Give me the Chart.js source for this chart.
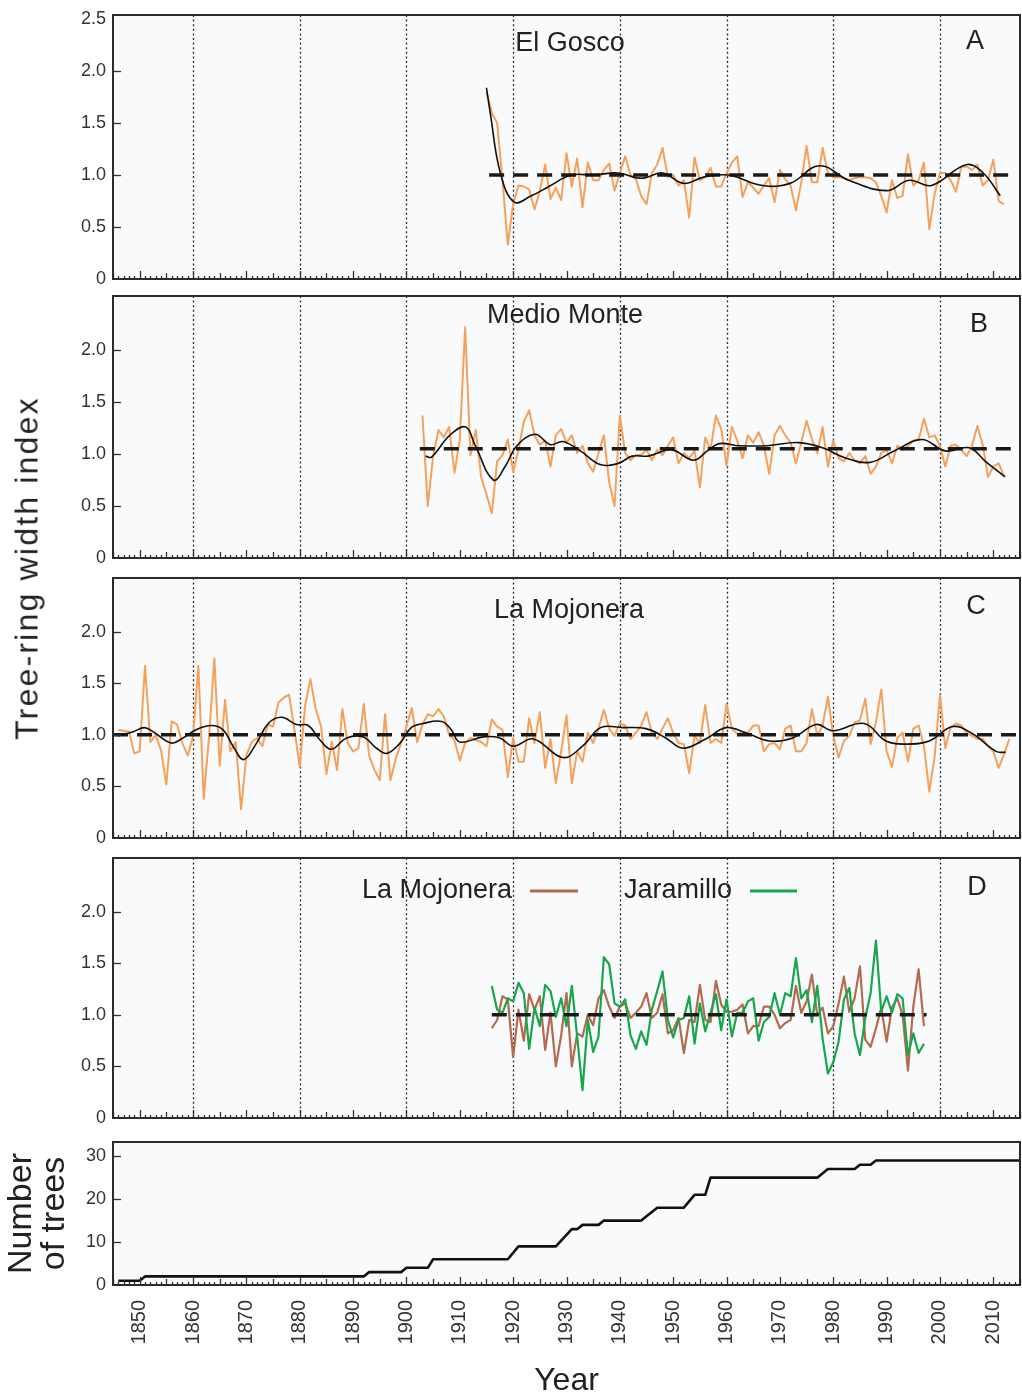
<!DOCTYPE html>
<html>
<head>
<meta charset="utf-8">
<script src="https://cdn.jsdelivr.net/npm/chart.js@4.4.1/dist/chart.umd.min.js"></script>
<style>
  html, body { margin: 0; padding: 0; background: #fff; }
  body { width: 1022px; height: 1397px; position: relative; overflow: hidden; font-family: "Liberation Sans", Arial, sans-serif; }
  canvas { position: absolute; left: 0; }
  #ytitle { position: absolute; left: 27px; top: 568px; transform: translate(-50%, -50%) rotate(-90deg);
            font-size: 32px; letter-spacing: 2.2px; color: #222; white-space: nowrap; }
</style>
</head>
<body>
<canvas id="cA" width="1022" height="288" style="top:3px"></canvas>
<canvas id="cB" width="1022" height="286" style="top:284px"></canvas>
<canvas id="cC" width="1022" height="284" style="top:566px"></canvas>
<canvas id="cD" width="1022" height="284" style="top:846px"></canvas>
<canvas id="cE" width="1022" height="267" style="top:1130px"></canvas>
<div id="ytitle">Tree-ring width index</div>
<script>
// eje de años
const X_MIN = 1845, X_MAX = 2015;
const gridYears = [1860, 1880, 1900, 1920, 1940, 1960, 1980, 2000];
const yearTicks = [1850, 1860, 1870, 1880, 1890, 1900, 1910, 1920, 1930, 1940, 1950, 1960, 1970, 1980, 1990, 2000, 2010];

// A - El Gosco (índice anual desde 1915)
const goscoStart = 1915;
const goscoRing = [
  1.80, 1.60, 1.50, 0.95, 0.33, 0.72, 0.90, 0.89, 0.86, 0.67,
  0.85, 1.10, 0.77, 0.88, 0.76, 1.21, 0.89, 1.16, 0.69, 1.12,
  0.95, 0.95, 1.05, 1.11, 0.85, 1.02, 1.18, 1.00, 0.96, 0.80,
  0.72, 1.02, 1.10, 1.26, 0.98, 1.00, 0.90, 0.95, 0.59, 1.17,
  0.95, 0.98, 1.07, 0.89, 0.89, 1.02, 1.12, 1.18, 0.79, 0.93,
  0.88, 0.82, 0.90, 0.97, 0.74, 1.05, 0.96, 0.90, 0.66, 0.93,
  1.28, 0.93, 0.93, 1.26, 1.02, 0.98, 0.98, 0.97, 0.95, 0.97,
  0.98, 0.98, 0.97, 0.93, 0.80, 0.64, 0.95, 0.78, 0.80, 1.20,
  0.90, 0.95, 1.12, 0.48, 0.82, 1.02, 1.02, 0.95, 0.84, 1.08,
  1.08, 1.05, 1.10, 0.90, 0.95, 1.15, 0.75, 0.72
];
const goscoSplineYears = [1915.0, 1915.7, 1917.6, 1920.2, 1923.4, 1926.7, 1930.9, 1935.1, 1939.6, 1944.1, 1948.0, 1951.9,
  1955.7, 1960.3, 1966.7, 1971.9, 1977.4, 1982.9, 1990.0, 1994.2, 1998.4, 2004.9, 2008.1, 2011.3];
const goscoSplineVals = [1.84, 1.60, 1.02, 0.74, 0.80, 0.89, 1.00, 1.00, 1.02, 0.97, 1.02, 0.92,
  0.98, 1.00, 0.90, 0.92, 1.09, 0.95, 0.85, 0.95, 0.90, 1.10, 1.02, 0.80];
const goscoMean = [1915.5, 2014, 1.0];

// B - Medio Monte (desde 1903)
const medioStart = 1903;
const medioRing = [
  1.37, 0.50, 0.98, 1.23, 1.16, 1.26, 0.82, 1.14, 2.22, 0.99,
  1.23, 0.78, 0.61, 0.43, 0.93, 0.99, 1.14, 0.83, 1.04, 1.31,
  1.42, 1.18, 1.09, 1.13, 0.88, 1.18, 1.24, 1.11, 1.18, 1.01,
  1.08, 0.91, 0.83, 1.01, 1.18, 0.73, 0.50, 1.37, 1.01, 0.94,
  0.99, 0.99, 1.04, 0.94, 1.04, 0.99, 1.08, 1.16, 0.91, 1.01,
  0.96, 1.03, 0.68, 1.16, 1.04, 1.37, 1.24, 0.89, 1.26, 1.13,
  0.96, 1.18, 1.11, 1.21, 1.08, 0.81, 1.18, 1.27, 1.18, 1.11,
  0.91, 1.11, 1.32, 1.14, 1.01, 1.26, 0.88, 1.13, 0.96, 0.93,
  1.01, 0.94, 0.91, 0.98, 0.81, 0.88, 1.01, 1.04, 0.91, 1.08,
  1.04, 1.08, 1.13, 1.14, 1.34, 1.16, 1.18, 1.08, 0.88, 1.08,
  1.09, 1.04, 0.98, 1.08, 1.27, 1.09, 0.78, 0.88, 0.91, 0.79
];
const medioSplineYears = [1903.6, 1904.7, 1908.1, 1911.1, 1912.9, 1916.3, 1918.5, 1920.7, 1924.1, 1927.0, 1929.3,
  1932.6, 1936.3, 1939.7, 1942.3, 1945.3, 1949.7, 1953.8, 1956.4, 1958.6, 1962.4, 1967.6, 1973.5, 1978.0,
  1982.4, 1986.9, 1991.4, 1996.6, 2001.0, 2005.5, 2008.5, 2012.2];
const medioSplineVals = [0.98, 0.97, 1.18, 1.26, 1.08, 0.75, 0.88, 1.08, 1.19, 1.09, 1.12,
  1.03, 0.90, 0.91, 0.98, 0.98, 1.04, 0.94, 1.03, 1.10, 1.08, 1.08, 1.11, 1.06,
  0.96, 0.92, 1.03, 1.14, 1.03, 1.06, 0.93, 0.78];
const medioMean = [1902.5, 2014, 1.05];

// C - La Mojonera (desde 1846)
const mojoStart = 1846;
const mojoRing = [
  1.05, 1.04, 1.03, 0.82, 0.84, 1.67, 0.93, 1.00, 0.85, 0.52,
  1.13, 1.10, 0.92, 0.80, 0.98, 1.67, 0.38, 0.98, 1.74, 0.70,
  1.34, 0.84, 0.93, 0.28, 0.80, 0.93, 0.97, 0.89, 1.10, 1.08,
  1.31, 1.36, 1.39, 1.05, 0.69, 1.28, 1.54, 1.25, 1.08, 0.62,
  0.93, 0.66, 1.25, 0.92, 0.84, 0.87, 1.30, 0.80, 0.66, 0.56,
  1.20, 0.56, 0.77, 0.92, 1.08, 1.26, 0.93, 1.10, 1.20, 1.18,
  1.25, 1.18, 1.00, 0.95, 0.75, 0.92, 0.97, 0.95, 0.93, 0.89,
  1.15, 1.08, 1.05, 0.59, 0.97, 0.74, 0.74, 1.16, 0.92, 1.22,
  0.68, 0.96, 0.53, 0.84, 1.19, 0.53, 0.84, 0.74, 1.02, 0.92,
  1.06, 1.24, 1.06, 0.99, 1.11, 1.09, 0.96, 1.02, 1.09, 1.22,
  1.02, 0.96, 1.06, 1.16, 1.02, 0.92, 0.91, 0.63, 0.99, 0.92,
  1.29, 0.92, 0.96, 0.92, 1.30, 1.06, 1.01, 1.02, 1.02, 1.09,
  1.09, 0.84, 0.91, 0.92, 0.86, 1.06, 1.09, 0.84, 0.84, 0.92,
  1.25, 0.99, 1.09, 1.37, 0.99, 0.78, 0.94, 0.99, 1.12, 1.14,
  1.35, 0.91, 1.12, 1.44, 0.84, 0.69, 0.97, 1.02, 0.74, 1.06,
  1.09, 0.89, 0.45, 0.79, 1.39, 0.87, 1.07, 1.11, 1.09, 1.02,
  0.99, 0.96, 0.96, 0.89, 0.84, 0.68, 0.81, 0.96
];
const mojoSplineYears = [1846.0, 1848.8, 1850.9, 1852.8, 1855.9, 1858.1, 1860.6, 1863.4, 1865.6, 1867.5,
  1869.5, 1871.9, 1874.1, 1876.6, 1879.4, 1881.6, 1883.8, 1885.9, 1888.8, 1891.9,
  1894.4, 1896.3, 1898.8, 1900.9, 1903.1, 1906.6, 1908.4, 1910.0, 1914.4, 1917.5,
  1920.0, 1923.8, 1929.3, 1933.0, 1936.4, 1940.5, 1944.9, 1948.6, 1951.8, 1956.1,
  1959.9, 1963.6, 1968.0, 1972.4, 1976.8, 1979.9, 1985.8, 1989.9, 1993.6, 1998.0,
  2002.4, 2006.1, 2010.5, 2012.3];
const mojoSplineVals = [0.99, 1.03, 1.07, 1.02, 0.92, 0.97, 1.05, 1.09, 1.05, 0.89,
  0.76, 0.92, 1.11, 1.17, 1.10, 1.09, 0.95, 0.86, 0.97, 0.98,
  0.87, 0.82, 0.92, 1.07, 1.11, 1.13, 1.05, 0.93, 0.98, 0.97,
  0.89, 0.96, 0.78, 0.89, 1.07, 1.07, 1.06, 0.97, 0.87, 0.96,
  1.07, 1.02, 0.94, 0.97, 1.10, 1.04, 1.11, 0.94, 0.91, 0.94,
  1.08, 1.01, 0.84, 0.83];
const mojoMean = [1845, 2015, 1.0];

// D - La Mojonera vs Jaramillo (1916-1997)
const compStart = 1916;
const compMojonera = [
  0.87, 0.95, 1.18, 1.15, 0.59, 1.05, 0.75, 1.20, 1.05, 1.18,
  0.66, 1.02, 0.50, 0.80, 1.21, 0.50, 0.82, 0.79, 1.00, 0.90,
  1.16, 1.24, 1.08, 0.97, 1.08, 1.11, 0.97, 1.02, 1.08, 1.21,
  0.97, 1.02, 1.20, 0.82, 0.85, 0.97, 0.63, 0.95, 0.93, 1.29,
  0.95, 0.93, 1.33, 1.10, 1.03, 1.03, 1.05, 1.10, 0.82, 0.89,
  0.89, 1.08, 1.08, 1.00, 0.87, 0.92, 0.95, 1.28, 1.02, 1.13,
  1.39, 1.00, 1.07, 0.82, 0.89, 1.11, 1.37, 1.03, 1.16, 1.47,
  0.76, 0.69, 0.87, 1.07, 0.74, 1.07, 1.16, 1.00, 0.46, 1.08,
  1.44, 0.89
];
const compJaramillo = [
  1.28, 1.05, 1.02, 1.16, 1.13, 1.31, 1.21, 0.67, 1.07, 0.89,
  1.29, 1.23, 0.98, 1.16, 0.89, 1.28, 0.79, 0.27, 0.95, 0.64,
  0.79, 1.56, 1.49, 1.11, 1.08, 1.15, 0.80, 0.67, 0.84, 0.71,
  1.05, 1.23, 1.42, 0.95, 0.78, 0.95, 0.97, 1.18, 0.72, 1.11,
  0.84, 1.02, 1.20, 0.85, 1.15, 0.79, 1.02, 1.02, 1.13, 1.16,
  0.75, 0.93, 0.98, 1.21, 1.00, 1.21, 1.18, 1.55, 1.16, 1.24,
  0.93, 1.28, 0.77, 0.43, 0.54, 0.74, 1.15, 1.26, 0.82, 0.61,
  0.97, 1.21, 1.72, 1.03, 1.18, 1.02, 1.20, 1.16, 0.61, 0.82,
  0.63, 0.72
];
const compMean = [1916, 1997.5, 1.0];

// E - número de árboles (años en los que cambia la pendiente)
const treeYears = [1846, 1850, 1851, 1892, 1893, 1899, 1900, 1904, 1905, 1919, 1921, 1928, 1931, 1932,
  1933, 1936, 1937, 1944, 1947, 1952, 1954, 1956, 1957, 1977, 1979, 1984, 1985, 1987, 1988, 2015];
const treeCounts = [1, 1, 2, 2, 3, 3, 4, 4, 6, 6, 9, 9, 13, 13,
  14, 14, 15, 15, 18, 18, 21, 21, 25, 25, 27, 27, 28, 28, 29, 29];

const FONT = '"Liberation Sans", Arial, sans-serif';
const ORANGE = '#f6a058', BROWN = '#b5694d', GREEN = '#16a64b', INK = '#222';

const byYear = (start, vals) => vals.map((v, i) => ({ x: start + i, y: v }));
const zip = (xs, ys) => xs.map((x, i) => ({ x: x, y: ys[i] }));
const meanLine = m => [{ x: m[0], y: m[2] }, { x: m[1], y: m[2] }];

const ringLine = (data, color, w) => ({ data, borderColor: color, borderWidth: w, pointRadius: 0, tension: 0, borderJoinStyle: 'round' });
const smoothLine = data => ({ data, borderColor: '#111', borderWidth: 1.6, pointRadius: 0, tension: 0.4 });
const dashLine = data => ({ data, borderColor: '#1a1a1a', borderWidth: 3.5, borderDash: [15, 9], pointRadius: 0 });

// sin relleno extra por los rótulos: el área del gráfico queda fija
const yFit = s => { s.width = 113; s.paddingTop = 0; s.paddingBottom = 0; };
const xFit = h => s => { s.height = h; s.paddingLeft = 0; s.paddingRight = 0; };

// marco, cuadrícula punteada, marcas hacia dentro y rótulos
const decor = {
  id: 'decor',
  beforeDatasetsDraw(chart, args, o) {
    const { ctx, chartArea: a, scales: { x } } = chart;
    ctx.save();
    ctx.fillStyle = '#f9fafc';
    ctx.fillRect(a.left, a.top, a.width, a.height);
    if (o.grid) {
      ctx.strokeStyle = '#2a2a2a';
      ctx.lineWidth = 1.3;
      ctx.setLineDash([2, 2.6]);
      gridYears.forEach(yr => {
        const px = Math.round(x.getPixelForValue(yr)) + 0.5;
        ctx.beginPath(); ctx.moveTo(px, a.top); ctx.lineTo(px, a.bottom); ctx.stroke();
      });
    }
    ctx.restore();
  },
  afterDatasetsDraw(chart, args, o) {
    const { ctx, chartArea: a, scales: { x, y } } = chart;
    ctx.save();
    ctx.strokeStyle = '#333';
    ctx.lineWidth = 1.3;
    for (let yr = Math.ceil(x.min); yr <= x.max; yr++) {
      const px = Math.round(x.getPixelForValue(yr)) + 0.5;
      const len = yr % 10 === 0 ? 8 : (yr % 5 === 0 ? 6 : 3);
      ctx.beginPath(); ctx.moveTo(px, a.bottom); ctx.lineTo(px, a.bottom - len); ctx.stroke();
    }
    y.ticks.forEach(t => {
      const py = Math.round(y.getPixelForValue(t.value)) + 0.5;
      if (py <= a.top + 6 || py >= a.bottom - 2) return;
      ctx.beginPath(); ctx.moveTo(a.left, py); ctx.lineTo(a.left + 8, py); ctx.stroke();
    });
    ctx.lineWidth = 2;
    ctx.strokeStyle = '#2b2b2b';
    ctx.strokeRect(a.left, a.top, a.width, a.height);

    ctx.fillStyle = INK;
    ctx.textBaseline = 'middle';
    ctx.textAlign = 'center';
    ctx.font = '27px ' + FONT;
    (o.labels || []).forEach(l => ctx.fillText(l.text, a.left + l.dx, a.top + l.dy));
    (o.keys || []).forEach(k => {
      ctx.strokeStyle = k.color; ctx.lineWidth = 3; ctx.setLineDash([]);
      ctx.beginPath(); ctx.moveTo(a.left + k.x0, a.top + k.dy); ctx.lineTo(a.left + k.x1, a.top + k.dy); ctx.stroke();
    });
    ctx.restore();
  }
};

const yLabel = v => (v === 0 ? '0' : v.toFixed(1));

function ringChart(id, datasets, yMax, showTop, decorOpts) {
  return new Chart(document.getElementById(id), {
    type: 'line',
    data: { datasets },
    plugins: [decor],
    options: {
      responsive: false,
      animation: false,
      events: [],
      layout: { padding: { left: 0, right: 2, top: 12, bottom: 12 } },
      plugins: { legend: { display: false }, tooltip: { enabled: false }, decor: decorOpts },
      scales: {
        x: { type: 'linear', min: X_MIN, max: X_MAX, display: false },
        y: {
          min: 0, max: yMax,
          afterFit: yFit,
          grid: { display: false, drawTicks: false },
          border: { display: false },
          ticks: {
            stepSize: 0.5, includeBounds: false, padding: 7, color: '#333',
            font: { family: FONT, size: 18 },
            callback: v => (v > 2.01 && !showTop ? '' : yLabel(v))
          }
        }
      }
    }
  });
}

ringChart('cA', [
  smoothLine(zip(goscoSplineYears, goscoSplineVals)),
  dashLine(meanLine(goscoMean)),
  ringLine(byYear(goscoStart, goscoRing), ORANGE, 2)
], 2.54, true, {
  grid: true,
  labels: [{ text: 'El Gosco', dx: 457, dy: 29 }, { text: 'A', dx: 862, dy: 27 }]
});

ringChart('cB', [
  smoothLine(zip(medioSplineYears, medioSplineVals)),
  dashLine(meanLine(medioMean)),
  ringLine(byYear(medioStart, medioRing), ORANGE, 2)
], 2.52, false, {
  grid: true,
  labels: [{ text: 'Medio Monte', dx: 452, dy: 20 }, { text: 'B', dx: 866, dy: 29 }]
});

ringChart('cC', [
  smoothLine(zip(mojoSplineYears, mojoSplineVals)),
  dashLine(meanLine(mojoMean)),
  ringLine(byYear(mojoStart, mojoRing), ORANGE, 2)
], 2.52, false, {
  grid: true,
  labels: [{ text: 'La Mojonera', dx: 456, dy: 33 }, { text: 'C', dx: 863, dy: 29 }]
});

ringChart('cD', [
  dashLine(meanLine(compMean)),
  ringLine(byYear(compStart, compJaramillo), GREEN, 2.2),
  ringLine(byYear(compStart, compMojonera), BROWN, 2.2)
], 2.52, false, {
  grid: true,
  labels: [{ text: 'La Mojonera', dx: 324, dy: 33 }, { text: 'Jaramillo', dx: 565, dy: 33 }, { text: 'D', dx: 864, dy: 30 }],
  keys: [{ color: BROWN, x0: 417, x1: 465, dy: 33 }, { color: GREEN, x0: 637, x1: 684, dy: 33 }]
});

new Chart(document.getElementById('cE'), {
  type: 'line',
  data: {
    datasets: [{
      data: zip(treeYears, treeCounts), borderColor: '#111', borderWidth: 2.6,
      pointRadius: 0, tension: 0, borderJoinStyle: 'round'
    }]
  },
  plugins: [decor],
  options: {
    responsive: false,
    animation: false,
    events: [],
    layout: { padding: { left: 0, right: 2, top: 12, bottom: 0 } },
    plugins: { legend: { display: false }, tooltip: { enabled: false }, decor: { grid: false } },
    scales: {
      x: {
        type: 'linear', min: X_MIN, max: X_MAX,
        afterBuildTicks: s => { s.ticks = yearTicks.map(v => ({ value: v })); },
        afterFit: xFit(112),
        grid: { display: false, drawTicks: false },
        border: { display: false },
        ticks: {
          minRotation: 90, maxRotation: 90, autoSkip: false,
          padding: 15, color: '#333', font: { family: FONT, size: 20 },
          callback: v => String(v)
        },
        title: { display: true, text: 'Year', color: INK, padding: 0, font: { family: FONT, size: 32, lineHeight: 1 } }
      },
      y: {
        min: 0, max: 33.3,
        afterFit: yFit,
        grid: { display: false, drawTicks: false },
        border: { display: false },
        ticks: {
          stepSize: 5, includeBounds: false, padding: 7, color: '#333',
          font: { family: FONT, size: 18 },
          callback: v => (v % 10 === 0 ? String(v) : '')
        },
        title: {
          display: true, text: ['Number', 'of trees'], color: INK,
          padding: { top: 5, bottom: 0 },
          font: { family: FONT, size: 34, lineHeight: 0.97 }
        }
      }
    }
  }
});
</script>
</body>
</html>
